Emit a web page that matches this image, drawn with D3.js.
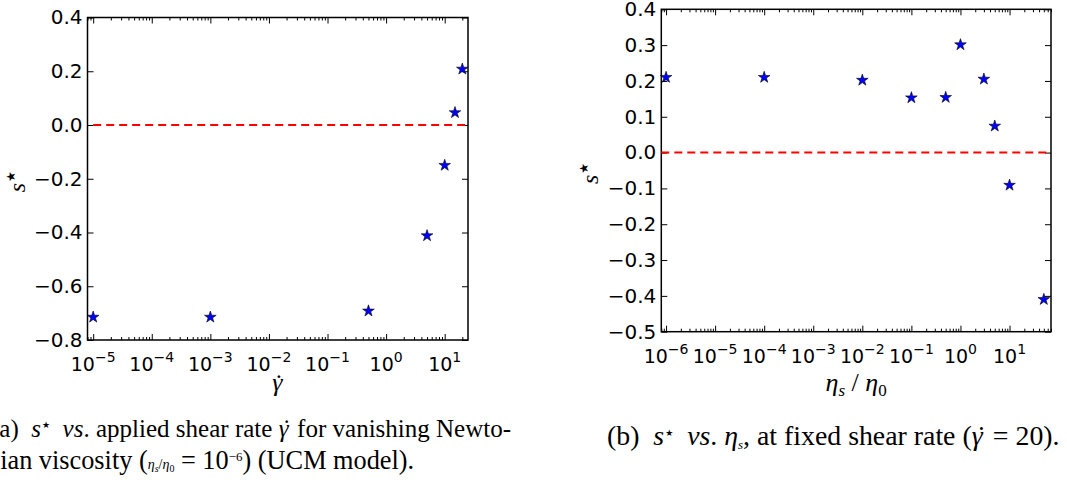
<!DOCTYPE html>
<html lang="en">
<head>
<meta charset="utf-8">
<script src="https://d3js.org/d3.v7.min.js"></script>
<style>
body { margin: 0; background: #fff; }
svg { display: block; }
.tick line { stroke: #000; stroke-width: 1; }
.tick text { font-family: "DejaVu Sans", sans-serif; font-size: 20px; fill: #000; }
.frame { fill: none; stroke: #000; stroke-width: 1.5; }
.xlab { font-family: "DejaVu Sans", sans-serif; font-size: 19px; fill: #000; }
.math { font-family: "Liberation Serif", "DejaVu Serif", serif; fill: #000; }
.caption { font-family: "Liberation Serif", "DejaVu Serif", serif; font-size: 20px; fill: #000; white-space: pre; }
</style>
<title>s* vs shear rate and viscosity ratio</title>
</head>
<body>
<script>
// (a) s* against applied shear rate, eta_s/eta_0 = 1e-6
var shearRate = [1e-5, 1e-3, 0.5, 5, 10, 15, 20];
var sStarA    = [-0.715, -0.715, -0.692, -0.412, -0.150, 0.046, 0.208];
var xExpA     = [-5, -4, -3, -2, -1, 0, 1];
var yTicksA   = [-0.8, -0.6, -0.4, -0.2, 0.0, 0.2, 0.4];
var xDomainA  = [8e-6, 25];
var yDomainA  = [-0.8, 0.4];
var refLineA  = [1e-5, 25];

// (b) s* against eta_s/eta_0, shear rate fixed at 20
var viscRatio = [1e-6, 1e-4, 1e-2, 0.1, 0.5, 1, 3, 5, 10, 50];
var sStarB    = [0.210, 0.210, 0.202, 0.153, 0.154, 0.301, 0.205, 0.074, -0.091, -0.410];
var xExpB     = [-6, -5, -4, -3, -2, -1, 0, 1];
var yTicksB   = [-0.5, -0.4, -0.3, -0.2, -0.1, 0.0, 0.1, 0.2, 0.3, 0.4];
var xDomainB  = [8e-7, 70];
var yDomainB  = [-0.5, 0.4];
var refLineB  = [8e-7, 70];

var W = 1067, H = 484;
var svg = d3.select("body").append("svg").attr("width", W).attr("height", H);

function noText() { return ""; }

function panel(p) {
  var x = d3.scaleLog().domain(p.xDomain).range([p.left, p.right]);
  var y = d3.scaleLinear().domain(p.yDomain).range([p.bottom, p.top]);
  var g = svg.append("g");

  var majors = p.xExp.map(function(e) { return Math.pow(10, e); });
  var minors = [];
  var e0 = Math.floor(Math.log10(p.xDomain[0])), e1 = Math.ceil(Math.log10(p.xDomain[1]));
  for (var e = e0; e <= e1; e++) {
    for (var k = 2; k <= 9; k++) {
      var v = k * Math.pow(10, e);
      if (v >= p.xDomain[0] && v <= p.xDomain[1]) minors.push(v);
    }
  }

  function strip(sel) { sel.select(".domain").remove(); }

  // ticks point inward on all four sides
  g.append("g").attr("transform", "translate(0," + p.bottom + ")")
    .call(d3.axisBottom(x).tickValues(majors).tickSize(-6).tickFormat(noText)).call(strip);
  g.append("g").attr("transform", "translate(0," + p.bottom + ")")
    .call(d3.axisBottom(x).tickValues(minors).tickSize(-3).tickFormat(noText)).call(strip);
  g.append("g").attr("transform", "translate(0," + p.top + ")")
    .call(d3.axisTop(x).tickValues(majors).tickSize(-6).tickFormat(noText)).call(strip);
  g.append("g").attr("transform", "translate(0," + p.top + ")")
    .call(d3.axisTop(x).tickValues(minors).tickSize(-3).tickFormat(noText)).call(strip);
  g.append("g").attr("transform", "translate(" + p.left + ",0)")
    .call(d3.axisLeft(y).tickValues(p.yTicks).tickSize(-6).tickPadding(5).tickFormat(d3.format(".1f"))).call(strip);
  g.append("g").attr("transform", "translate(" + p.right + ",0)")
    .call(d3.axisRight(y).tickValues(p.yTicks).tickSize(-6).tickFormat(noText)).call(strip);

  // 10^n labels
  g.selectAll(".xlab").data(p.xExp).join("text")
    .attr("class", "xlab")
    .attr("x", function(d) { return x(Math.pow(10, d)); })
    .attr("y", p.bottom + 31)
    .attr("text-anchor", "middle")
    .each(function(d) {
      var t = d3.select(this);
      t.append("tspan").text("10");
      t.append("tspan").attr("dy", -9).attr("font-size", 14).text(d < 0 ? "\u2212" + (-d) : String(d));
    });

  g.append("rect").attr("class", "frame")
    .attr("x", p.left).attr("y", p.top)
    .attr("width", p.right - p.left).attr("height", p.bottom - p.top);

  g.append("line")
    .attr("x1", x(p.ref[0])).attr("x2", x(p.ref[1]))
    .attr("y1", y(0)).attr("y2", y(0))
    .attr("stroke", "#ff0000").attr("stroke-width", 2).attr("stroke-dasharray", "8,5");

  var star = d3.symbol().type(d3.symbolStar).size(42);
  g.selectAll(".pt").data(p.xs).join("path")
    .attr("class", "pt")
    .attr("d", star)
    .attr("transform", function(d, i) { return "translate(" + x(d) + "," + y(p.ys[i]) + ")"; })
    .attr("fill", "#0000ff").attr("stroke", "#000").attr("stroke-width", 0.6);

  // y label s*
  var yl = g.append("text").attr("class", "math")
    .attr("transform", "translate(" + p.ylabX + "," + ((p.top + p.bottom) / 2 + 3) + ") rotate(-90)")
    .attr("text-anchor", "middle").attr("font-size", 24);
  yl.append("tspan").attr("font-style", "italic").text("s");
  yl.append("tspan").attr("dy", -10).attr("dx", 1).attr("font-size", 12).attr("font-family", "DejaVu Sans").text("\u2605");

  return g.append("text").attr("class", "math")
    .attr("x", (p.left + p.right) / 2).attr("y", 391)
    .attr("text-anchor", "middle").attr("font-size", 26);
}

var labA = panel({ left: 87.5, right: 468, top: 17.5, bottom: 340,
  xDomain: xDomainA, yDomain: yDomainA, xExp: xExpA, yTicks: yTicksA,
  xs: shearRate, ys: sStarA, ref: refLineA, ylabX: 25 });
labA.append("tspan").attr("font-style", "italic").text("\u03b3");
labA.append("tspan").attr("dx", -8).attr("dy", 1).text("\u02d9");

var labB = panel({ left: 661.3, right: 1051, top: 9.3, bottom: 331.7,
  xDomain: xDomainB, yDomain: yDomainB, xExp: xExpB, yTicks: yTicksB,
  xs: viscRatio, ys: sStarB, ref: refLineB, ylabX: 598 });
labB.append("tspan").attr("font-style", "italic").text("\u03b7");
labB.append("tspan").attr("font-style", "italic").attr("font-size", 17).attr("dy", 5).text("s");
labB.append("tspan").attr("dy", -5).text(" / ");
labB.append("tspan").attr("font-style", "italic").text("\u03b7");
labB.append("tspan").attr("font-size", 17).attr("dy", 5).text("0");

// captions
function caption(x0, y0, width, parts) {
  var t = svg.append("text").attr("class", "caption").attr("x", x0).attr("y", y0);
  parts.forEach(function(q) {
    var s = t.append("tspan").text(q.t);
    if (q.i) s.attr("font-style", "italic");
    if (q.fs) s.attr("font-size", q.fs);
    if (q.dy) s.attr("dy", q.dy);
    if (q.dx) s.attr("dx", q.dx);
    if (q.ff) s.attr("font-family", q.ff);
  });
  var w = t.node().getBBox().width;
  t.style("font-size", (20 * width / w) + "px");
  return t;
}

caption(-9, 437, 521, [
  { t: "(a)  " }, { t: "s", i: 1 }, { t: "\u2605", fs: 9, dy: -9, dx: 1, ff: "DejaVu Sans" },
  { t: "  vs", i: 1, dy: 9 }, { t: ". applied shear rate " }, { t: "\u03b3", i: 1 },
  { t: "\u02d9", dx: -6 }, { t: " for vanishing Newto-" }
]);
caption(-13, 469, 440, [
  { t: "nian viscosity (" }, { t: "\u03b7", i: 1, fs: 14 }, { t: "s", i: 1, fs: 10, dy: 3 },
  { t: "/", fs: 14, dy: -3 }, { t: "\u03b7", i: 1, fs: 14 }, { t: "0", fs: 10, dy: 3 },
  { t: " = 10", dy: -3 }, { t: "\u22126", fs: 13, dy: -8 }, { t: ") (UCM model).", dy: 8 }
]);
caption(607, 445, 456, [
  { t: "(b)  " }, { t: "s", i: 1 }, { t: "\u2605", fs: 9, dy: -9, dx: 1, ff: "DejaVu Sans" },
  { t: "  vs", i: 1, dy: 9 }, { t: ". " }, { t: "\u03b7", i: 1 }, { t: "s", i: 1, fs: 13, dy: 4 },
  { t: ", at fixed shear rate (", dy: -4 }, { t: "\u03b3", i: 1 }, { t: "\u02d9", dx: -6 },
  { t: " = 20)." }
]);
</script>
</body>
</html>
